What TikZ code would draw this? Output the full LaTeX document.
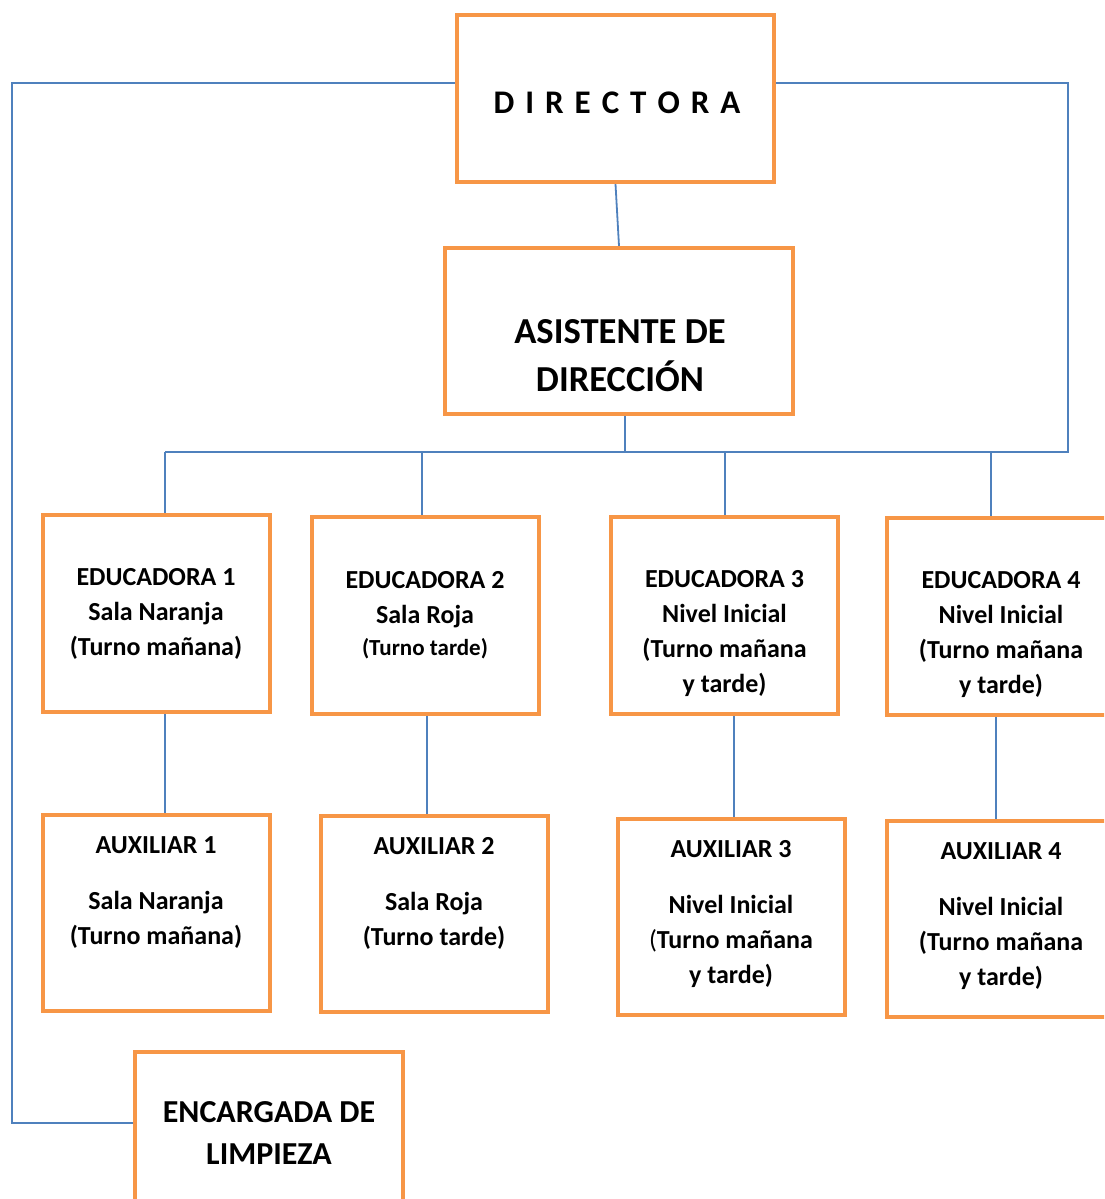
\documentclass[tikz,border=0pt]{standalone}
\usepackage{fontspec}
\setmainfont{Carlito}
\usetikzlibrary{backgrounds}

\definecolor{naranja}{HTML}{F79646}
\definecolor{azul}{HTML}{4F81BD}
\newcommand{\hueco}{\hspace{5.5pt}}

\begin{document}
\begin{tikzpicture}[x=0.5pt, y=-0.5pt,
		caja/.style={draw=naranja, line width=2pt, fill=white, minimum width=113.5pt, minimum height=98.5pt},
		texto/.style={align=center, font=\bfseries\fontsize{13}{17.5}\selectfont},
		linea/.style={draw=azul, line width=0.9pt}]
	\useasboundingbox (0,0) rectangle (1104,1199);
	\clip (0,0) rectangle (1104,1199);
	\node[caja, minimum width=158.5pt, minimum height=83.5pt] (dir) at (615.5,98.5) {};
	\node[caja, minimum width=174pt, minimum height=83pt] (asis) at (619,331) {};
	\node[caja] (edu1) at (156.5,613.5) {};
	\node[caja] (edu2) at (425.5,615.5) {};
	\node[caja] (edu3) at (724.5,615.5) {};
	\node[caja] (edu4) at (1000.5,616.5) {};
	\node[caja, minimum height=98pt] (aux1) at (156,912.5) {};
	\node[caja, minimum height=98pt] (aux2) at (434.5,913.5) {};
	\node[caja, minimum height=98pt] (aux3) at (731,917) {};
	\node[caja, minimum height=98pt] (aux4) at (1000.5,919) {};
	\node[caja, minimum width=134pt, minimum height=80pt] (enc) at (269,1132) {};

	\node[texto, font=\bfseries\fontsize{16.5}{18}\selectfont] (dirt) at (617,103) {D\hueco I\hueco R\hueco E\hueco C\hueco T\hueco O\hueco R\hueco A};
	\node[texto, font=\bfseries\fontsize{18.3}{24}\selectfont] (asist) at (620,355.5) {ASISTENTE DE\\DIRECCIÓN};
	\node[texto] (edu1t) at (156,614) {EDUCADORA 1\\Sala Naranja\\(Turno mañana)};
	\node[texto] (edu2t) at (425,615.5) {EDUCADORA 2\\Sala Roja\\[-1.5pt]{\fontsize{11.5}{14}\selectfont(Turno tarde)}};
	\node[texto] (edu3t) at (724.5,633.5) {EDUCADORA 3\\Nivel Inicial\\(Turno mañana\\y tarde)};
	\node[texto] (edu4t) at (1001,635) {EDUCADORA 4\\Nivel Inicial\\(Turno mañana\\y tarde)};
	\node[texto] (aux1t) at (156,893) {AUXILIAR 1\\[10.5pt]Sala Naranja\\(Turno mañana)};
	\node[texto] (aux2t) at (434,893) {AUXILIAR 2\\[10.5pt]Sala Roja\\(Turno tarde)};
	\node[texto] (aux3t) at (731,914.5) {AUXILIAR 3\\[10.5pt]Nivel Inicial\\{\mdseries(}Turno mañana\\y tarde)};
	\node[texto] (aux4t) at (1001,916.5) {AUXILIAR 4\\[10.5pt]Nivel Inicial\\(Turno mañana\\y tarde)};
	\node[texto, font=\bfseries\fontsize{16}{21}\selectfont] (enct) at (269,1133) {ENCARGADA DE\\LIMPIEZA};

	\coordinate (izq) at (12,83);
	\coordinate (der) at (1068,83);
	\coordinate (bus) at (165,452);
	\coordinate (esq) at (12,1123);
	\begin{scope}[on background layer]
		\draw[linea] (dir.west |- izq) -- (izq) -- (esq) -- (enc.west |- esq);
		\draw[linea] (dir.east |- der) -- (der) -- (der |- bus) -- (bus);
		\draw[linea] (dir.south) -- (asis.north);
		\draw[linea] ([xshift=3pt]asis.south) -- ([xshift=3pt]asis.south |- bus);
		\draw[linea] ([xshift=4.25pt]edu1.north) -- ([xshift=4.25pt]edu1.north |- bus);
		\draw[linea] ([xshift=-1.75pt]edu2.north) -- ([xshift=-1.75pt]edu2.north |- bus);
		\draw[linea] ([xshift=0.25pt]edu3.north) -- ([xshift=0.25pt]edu3.north |- bus);
		\draw[linea] ([xshift=-4.75pt]edu4.north) -- ([xshift=-4.75pt]edu4.north |- bus);
		\draw[linea] ([xshift=4.25pt]edu1.south) -- ([xshift=4.25pt]edu1.south |- aux1.north);
		\draw[linea] ([xshift=0.75pt]edu2.south) -- ([xshift=0.75pt]edu2.south |- aux2.north);
		\draw[linea] ([xshift=4.75pt]edu3.south) -- ([xshift=4.75pt]edu3.south |- aux3.north);
		\draw[linea] ([xshift=-2.25pt]edu4.south) -- ([xshift=-2.25pt]edu4.south |- aux4.north);
	\end{scope}
\end{tikzpicture}
\end{document}
